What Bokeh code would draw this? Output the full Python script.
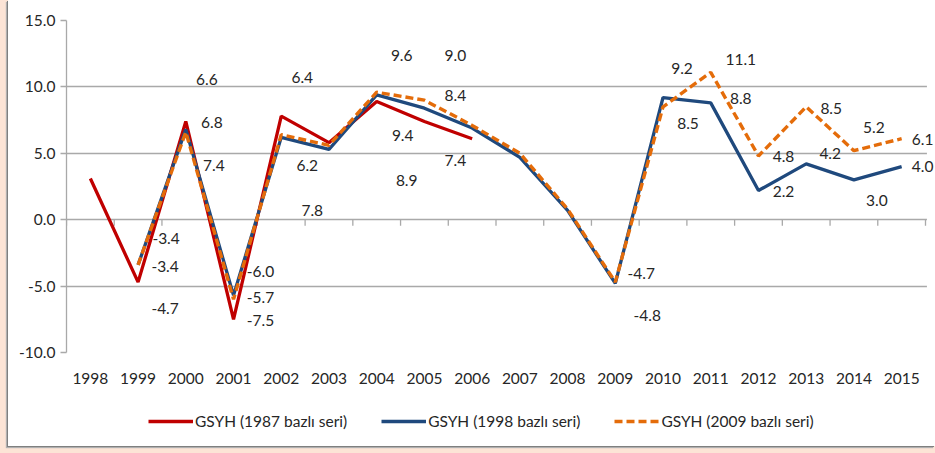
from bokeh.plotting import figure
from bokeh.layouts import column
from bokeh.models import (ColumnDataSource, FixedTicker, NumeralTickFormatter, Legend,
                          LegendItem, GlobalInlineStyleSheet, Range1d, LabelSet, BoxAnnotation)
from bokeh.core.properties import value
from bokeh.embed import file_html
from bokeh.resources import INLINE

nan = float("nan")

years = ["1998", "1999", "2000", "2001", "2002", "2003", "2004", "2005", "2006",
         "2007", "2008", "2009", "2010", "2011", "2012", "2013", "2014", "2015"]
gdp_1987 = [3.1, -4.7, 7.4, -7.5, 7.8, 5.8, 8.9, 7.4, 6.1,
            nan, nan, nan, nan, nan, nan, nan, nan, nan]
gdp_1998 = [nan, -3.4, 6.8, -5.7, 6.2, 5.3, 9.4, 8.4, 6.9,
            4.7, 0.7, -4.8, 9.2, 8.8, 2.2, 4.2, 3.0, 4.0]
gdp_2009 = [nan, -3.4, 6.6, -6.0, 6.4, 5.6, 9.6, 9.0, 7.1,
            5.0, 0.8, -4.7, 8.5, 11.1, 4.8, 8.5, 5.2, 6.1]
y_ticks = [-10, -5, 0, 5, 10, 15]

series_names = ["GSYH (1987 bazlı seri)", "GSYH (1998 bazlı seri)", "GSYH (2009 bazlı seri)"]

# data-label placement (which series / year, and where the label sits)
lbl_series = ["2009", "1998", "1987", "2009", "1998", "1987", "2009", "1998", "1987",
              "2009", "1998", "1987", "2009", "1998", "1987", "2009", "1998", "1987",
              "2009", "1998", "1998", "2009", "2009", "1998", "2009", "1998",
              "2009", "1998", "2009", "1998", "2009", "1998"]
lbl_year = [1, 1, 1, 2, 2, 2, 3, 3, 3, 4, 4, 4, 6, 6, 6, 7, 7, 7,
            11, 11, 12, 12, 13, 13, 14, 14, 15, 15, 16, 16, 17, 17]
lbl_dx = [28, 27, 27, 21, 26, 28, 27, 27, 27, 21, 26, 31, 25, 26, 30, 31, 31, 31,
          26, 32, 19, 25, 30, 30, 25, 25, 25, 24, 20, 23, 21, 21]
lbl_y = [-1.38, -3.56, -6.65, 10.53, 7.29, 4.05, -3.87, -5.83, -7.56,
         10.68, 4.05, 0.66, 12.34, 6.31, 2.92, 12.34, 9.32, 4.43,
         -4.02, -7.18, 11.36, 7.21, 12.03, 9.10, 4.73, 2.09,
         8.34, 4.95, 6.98, 1.41, 6.01, 3.97]

lookup = {"1987": gdp_1987, "1998": gdp_1998, "2009": gdp_2009}
lbl_text = [f"{lookup[s][i]:.1f}" for s, i in zip(lbl_series, lbl_year)]

FONT = "Lato"
FS = "15.5px"
TXT = "#262626"
GRID = "#a9a9a9"
COLORS = ["#C00000", "#1F497D", "#E46C0A"]
WIDTHS = [3.3, 3.3, 3.4]
DASHES = ["solid", "solid", "8 4"]

xs = list(range(len(years)))
n = len(years)
series = [gdp_1987, gdp_1998, gdp_2009]

# layout: categories are 859/18 px wide, frame runs on 10 px past the last category
cat_px = 859 / n
x_end = -0.5 + 869 / cat_px

p = figure(width=927, height=394, x_range=Range1d(-0.5, x_end),
           y_range=Range1d(-10, 15), output_backend="svg", toolbar_location=None,
           min_border_left=58, min_border_right=0, min_border_top=20, min_border_bottom=42)
p.outline_line_color = None
p.background_fill_color = "white"
p.border_fill_color = "white"

p.xgrid.visible = False
p.ygrid.ticker = FixedTicker(ticks=y_ticks)
p.ygrid.grid_line_color = GRID
p.ygrid.grid_line_width = 1.3

p.yaxis.ticker = FixedTicker(ticks=y_ticks)
p.yaxis.formatter = NumeralTickFormatter(format="0.0")
p.yaxis.axis_line_color = GRID
p.yaxis.axis_line_width = 1.3
p.yaxis.major_tick_line_color = GRID
p.yaxis.major_tick_line_width = 1.3
p.yaxis.major_tick_out = 6
p.yaxis.major_tick_in = 0
p.yaxis.minor_tick_line_color = None
p.yaxis.major_label_standoff = 5
p.yaxis.major_label_text_font = FONT
p.yaxis.major_label_text_font_size = FS
p.yaxis.major_label_text_color = TXT

p.xaxis.ticker = FixedTicker(ticks=xs)
p.xaxis.major_label_overrides = {i: y for i, y in enumerate(years)}
p.xaxis.axis_line_color = None
p.xaxis.major_tick_line_color = None
p.xaxis.minor_tick_line_color = None
p.xaxis.major_tick_out = 0
p.xaxis.major_tick_in = 0
p.xaxis.major_label_standoff = 20
p.xaxis.major_label_text_font = FONT
p.xaxis.major_label_text_font_size = FS
p.xaxis.major_label_text_color = TXT

# hide gridlines beyond the last category
p.add_layout(BoxAnnotation(left=n - 0.5 + 0.03, fill_color="white", fill_alpha=1,
                           line_color=None, level="underlay"))

# category tick marks hanging from the zero line
bounds = [k - 0.5 for k in range(n + 1)]
tick_len = 6 * 25 / 332
p.segment(x0=bounds, y0=[0] * len(bounds), x1=bounds, y1=[-tick_len] * len(bounds),
          line_color=GRID, line_width=1.3)

for ys, c, w, d in zip(series, COLORS, WIDTHS, DASHES):
    p.line(xs, ys, line_color=c, line_width=w, line_dash=d)

src = ColumnDataSource(dict(x=lbl_year, y=lbl_y, dx=lbl_dx, text=lbl_text))
labels = LabelSet(x="x", y="y", text="text", x_offset="dx", source=src,
                  text_align="center", text_baseline="middle",
                  text_font=value(FONT), text_font_size=value(FS), text_color=TXT)
p.add_layout(labels)

# legend strip beneath the chart (its series lie outside this strip's range)
p2 = figure(width=927, height=52, x_axis_type=None, y_axis_type=None,
            x_range=Range1d(-0.5, x_end), y_range=Range1d(100, 101),
            output_backend="svg", toolbar_location=None,
            min_border_left=58, min_border_right=0, min_border_top=0, min_border_bottom=0)
p2.outline_line_color = None
p2.background_fill_color = None
p2.border_fill_color = None
items = []
for name, ys, c, w, d in zip(series_names, series, COLORS, WIDTHS, DASHES):
    r = p2.line(xs, ys, line_color=c, line_width=w, line_dash=d)
    items.append(LegendItem(label=name, renderers=[r]))
legend = Legend(items=items, location=(82, 15), orientation="horizontal", glyph_width=45,
                glyph_height=20, label_standoff=2, spacing=34, padding=0, margin=0,
                border_line_color=None, background_fill_alpha=0,
                label_text_font=FONT, label_text_font_size=FS, label_text_color=TXT)
p2.add_layout(legend)

layout = column(p, p2, spacing=0)
layout.stylesheets = [GlobalInlineStyleSheet(css="html, body {background: #FCE4D6;}")]
layout.styles = {"margin-left": "8px", "background": "white",
                 "box-shadow": "-1px 1px 0 0 #7f7f7f, -2px 2px 1px 0 #b0b0b0"}

open("out.html", "w").write(file_html(layout, INLINE))
